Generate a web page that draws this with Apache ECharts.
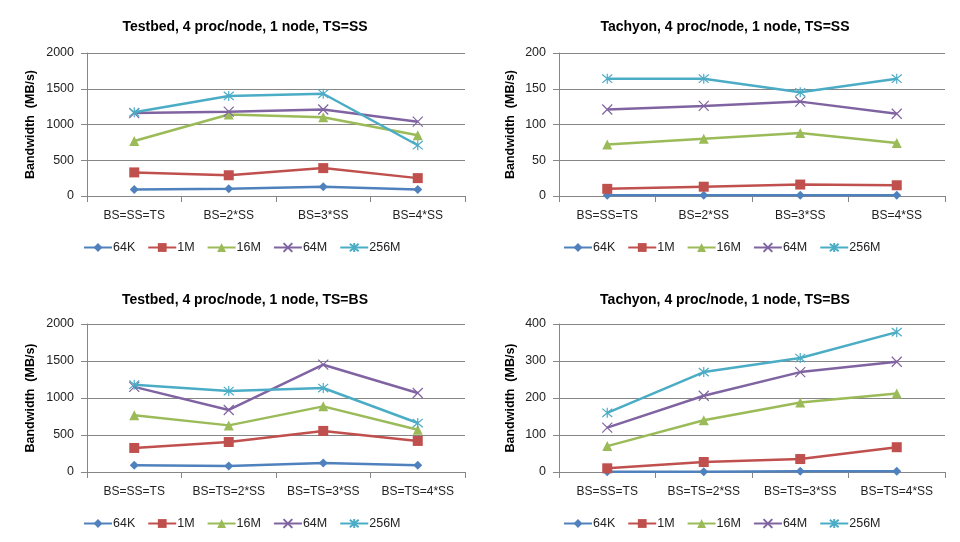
<!DOCTYPE html>
<html>
<head>
<meta charset="utf-8">
<script src="https://cdn.jsdelivr.net/npm/echarts@6/dist/echarts.min.js"></script>
<style>html,body{margin:0;padding:0;background:#fff;}#c{width:960px;height:542px;}</style>
</head>
<body>
<div id="c"></div>
<script>
// ---- data ----
const seriesNames = ['64K', '1M', '16M', '64M', '256M'];
const catsTS_SS = ['BS=SS=TS', 'BS=2*SS', 'BS=3*SS', 'BS=4*SS'];
const catsTS_BS = ['BS=SS=TS', 'BS=TS=2*SS', 'BS=TS=3*SS', 'BS=TS=4*SS'];
const titles = [
  'Testbed, 4 proc/node, 1 node, TS=SS',
  'Tachyon, 4 proc/node, 1 node, TS=SS',
  'Testbed, 4 proc/node, 1 node, TS=BS',
  'Tachyon, 4 proc/node, 1 node, TS=BS'
];
const yMax = [2000, 200, 2000, 400];
const yInterval = [500, 50, 500, 100];

// panel 1: Testbed TS=SS
const testbedSS_64K  = [90, 100, 130, 90];
const testbedSS_1M   = [330, 290, 390, 250];
const testbedSS_16M  = [770, 1140, 1100, 850];
const testbedSS_64M  = [1160, 1180, 1210, 1040];
const testbedSS_256M = [1170, 1400, 1430, 710];
// panel 2: Tachyon TS=SS
const tachyonSS_64K  = [1, 1, 1, 1];
const tachyonSS_1M   = [10, 13, 16, 15];
const tachyonSS_16M  = [72, 80, 88, 74];
const tachyonSS_64M  = [121, 126, 132, 115];
const tachyonSS_256M = [164, 164, 145, 164];
// panel 3: Testbed TS=BS
const testbedBS_64K  = [90, 80, 120, 90];
const testbedBS_1M   = [325, 405, 555, 420];
const testbedBS_16M  = [766, 630, 887, 570];
const testbedBS_64M  = [1150, 838, 1450, 1067];
const testbedBS_256M = [1180, 1094, 1135, 662];
// panel 4: Tachyon TS=BS
const tachyonBS_64K  = [1, 1, 2, 2];
const tachyonBS_1M   = [10, 27, 35, 67];
const tachyonBS_16M  = [70, 140, 188, 212];
const tachyonBS_64M  = [120, 206, 270, 298];
const tachyonBS_256M = [160, 270, 308, 378];

const panelData = [
  [testbedSS_64K, testbedSS_1M, testbedSS_16M, testbedSS_64M, testbedSS_256M],
  [tachyonSS_64K, tachyonSS_1M, tachyonSS_16M, tachyonSS_64M, tachyonSS_256M],
  [testbedBS_64K, testbedBS_1M, testbedBS_16M, testbedBS_64M, testbedBS_256M],
  [tachyonBS_64K, tachyonBS_1M, tachyonBS_16M, tachyonBS_64M, tachyonBS_256M]
];
const panelCats = [catsTS_SS, catsTS_SS, catsTS_BS, catsTS_BS];

// ---- styling ----
const colors = ['#4F81BD', '#C0504D', '#9BBB59', '#8064A2', '#4BACC6'];
const symbols = [
  'diamond', 'rect', 'triangle',
  'path://M0 0 L10 10 M10 0 L0 10',
  'path://M0 0 L10 10 M10 0 L0 10 M5 -1 L5 11'
];
const symbolSizes = [9, 10, 10, 10, 10];
const FONT = '"Liberation Sans", "Noto Sans", sans-serif';

const grids = [
  {left: 87, top: 53, width: 378, height: 143},
  {left: 559, top: 53, width: 386, height: 143},
  {left: 87, top: 324, width: 378, height: 148},
  {left: 559, top: 324, width: 386, height: 148}
];
const nameGaps = [50, 42, 50, 42];
const titleCenters = [[240, 15], [720, 15], [240, 288], [720, 288]];
const legendPos = [[78, 236], [558, 236], [78, 512], [558, 512]];

const option = {
  animation: false,
  backgroundColor: '#fff',
  color: colors,
  title: titles.map((t, i) => ({
    text: t, left: titleCenters[i][0], top: titleCenters[i][1], textAlign: 'center',
    textStyle: {fontFamily: FONT, fontSize: 14, fontWeight: 'bold', color: '#000'}
  })),
  legend: legendPos.map((p, i) => ({
    data: seriesNames, left: p[0], top: p[1], itemWidth: 28, itemHeight: 11, itemGap: 12,
    textStyle: {fontFamily: FONT, fontSize: 12.5, color: '#222', padding: [0, 0, 0, -4]}
  })),
  grid: grids,
  xAxis: grids.map((g, i) => ({
    type: 'category', gridIndex: i, data: panelCats[i], boundaryGap: true,
    axisLine: {lineStyle: {color: '#868686', width: 1}},
    axisTick: {show: true, length: 6, lineStyle: {color: '#868686'}},
    axisLabel: {fontFamily: FONT, fontSize: 12, color: '#222', margin: 14, interval: 0}
  })),
  yAxis: grids.map((g, i) => ({
    type: 'value', gridIndex: i, min: 0, max: yMax[i], interval: yInterval[i],
    name: 'Bandwidth  (MB/s)', nameLocation: 'middle', nameGap: nameGaps[i],
    nameTextStyle: {fontFamily: FONT, fontSize: 12.5, fontWeight: 'bold', color: '#000'},
    axisLine: {show: true, lineStyle: {color: '#868686', width: 1}},
    axisTick: {show: true, length: 6, lineStyle: {color: '#868686'}},
    splitLine: {lineStyle: {color: '#868686', width: 1}},
    axisLabel: {fontFamily: FONT, fontSize: 12.5, color: '#222', margin: 13,
      formatter: v => String(v)}
  })),
  series: []
};

panelData.forEach((arrs, p) => {
  arrs.forEach((vals, s) => {
    const isX = s >= 3;
    option.series.push({
      type: 'line', name: seriesNames[s], xAxisIndex: p, yAxisIndex: p,
      data: vals, symbol: symbols[s], symbolSize: symbolSizes[s], showSymbol: true,
      lineStyle: {color: colors[s], width: 2.5},
      itemStyle: isX
        ? {color: colors[s], borderColor: colors[s], borderWidth: 1.2}
        : {color: colors[s], borderColor: colors[s], borderWidth: 0},
      z: 2 + s
    });
  });
});

const chart = echarts.init(document.getElementById('c'), null, {renderer: 'canvas'});
chart.setOption(option);
</script>
</body>
</html>
